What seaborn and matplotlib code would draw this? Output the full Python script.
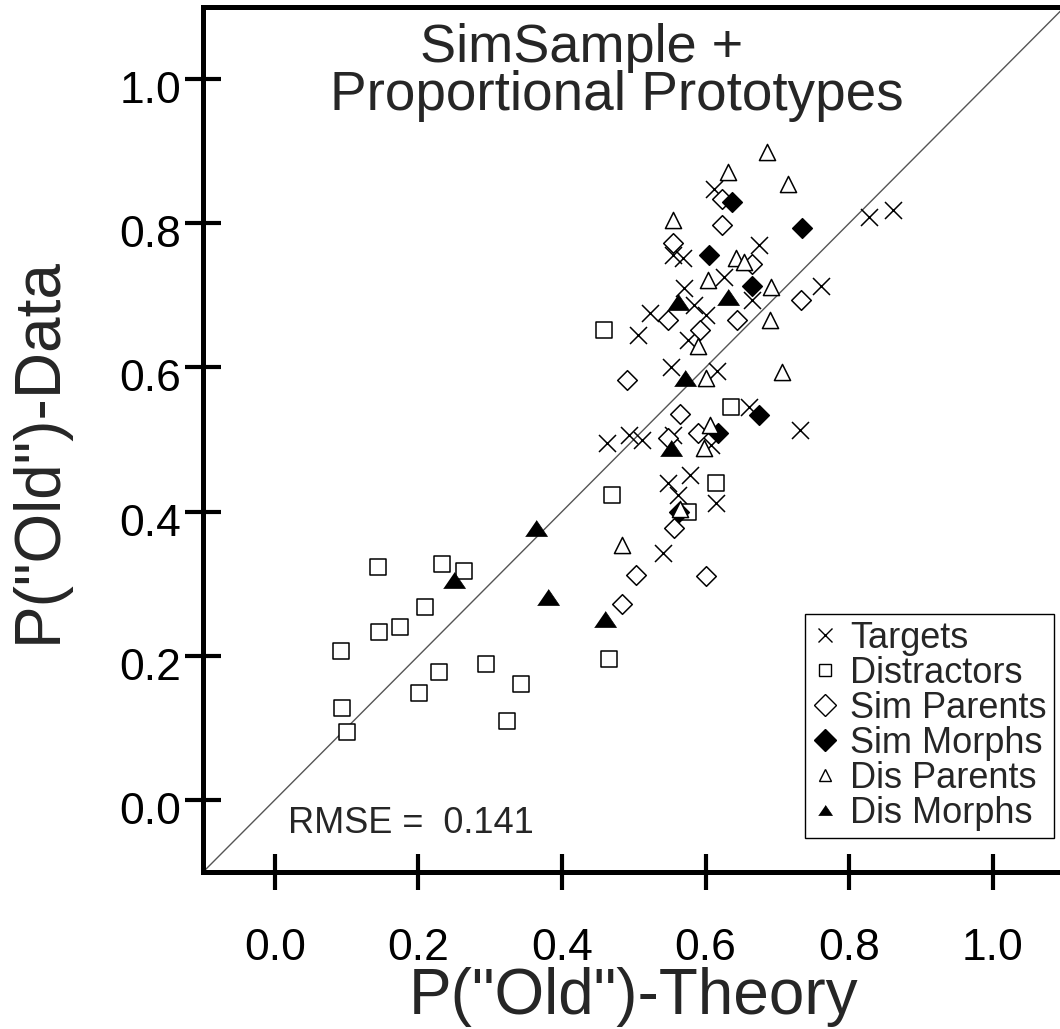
import numpy as np
import pandas as pd
import matplotlib
matplotlib.use("Agg")
import matplotlib.pyplot as plt
import matplotlib.transforms as mtransforms
from matplotlib.lines import Line2D
from matplotlib.ticker import FormatStrFormatter
import seaborn as sns

# ---------------- data ----------------
groups = ["Targets", "Distractors", "Sim Parents", "Sim Morphs", "Dis Parents", "Dis Morphs"]

targets_theory = [0.612, 0.554, 0.569, 0.674, 0.626, 0.570, 0.584, 0.665, 0.761, 0.523,
                  0.600, 0.506, 0.575, 0.552, 0.616, 0.661, 0.732, 0.554, 0.463, 0.493,
                  0.512, 0.607, 0.578, 0.547, 0.561, 0.614, 0.540, 0.828, 0.861]
targets_data = [0.847, 0.756, 0.752, 0.770, 0.726, 0.710, 0.687, 0.693, 0.713, 0.675,
                0.673, 0.645, 0.638, 0.601, 0.595, 0.545, 0.513, 0.506, 0.495, 0.506,
                0.500, 0.492, 0.451, 0.439, 0.423, 0.412, 0.342, 0.808, 0.818]

distractors_theory = [0.459, 0.636, 0.614, 0.470, 0.575, 0.466, 0.294, 0.343, 0.144, 0.233,
                      0.264, 0.209, 0.175, 0.145, 0.092, 0.229, 0.201, 0.093, 0.323, 0.100]
distractors_data = [0.652, 0.545, 0.439, 0.423, 0.400, 0.195, 0.188, 0.161, 0.323, 0.328,
                    0.318, 0.267, 0.240, 0.233, 0.206, 0.178, 0.149, 0.127, 0.110, 0.094]

simparents_theory = [0.623, 0.623, 0.555, 0.665, 0.733, 0.548, 0.644, 0.592, 0.490, 0.564,
                     0.589, 0.548, 0.556, 0.503, 0.484, 0.600]
simparents_data = [0.834, 0.798, 0.772, 0.744, 0.693, 0.666, 0.666, 0.652, 0.583, 0.535,
                   0.509, 0.502, 0.377, 0.312, 0.272, 0.311]

simmorphs_theory = [0.637, 0.734, 0.605, 0.664, 0.675, 0.617, 0.563]
simmorphs_data = [0.830, 0.793, 0.756, 0.713, 0.534, 0.509, 0.400]

disparents_theory = [0.685, 0.631, 0.715, 0.555, 0.642, 0.654, 0.603, 0.691, 0.690, 0.589,
                     0.601, 0.706, 0.606, 0.598, 0.565, 0.484]
disparents_data = [0.899, 0.871, 0.854, 0.804, 0.752, 0.746, 0.721, 0.712, 0.666, 0.629,
                   0.585, 0.593, 0.520, 0.488, 0.404, 0.354]

dismorphs_theory = [0.562, 0.631, 0.571, 0.552, 0.364, 0.380, 0.460, 0.249]
dismorphs_data = [0.691, 0.698, 0.585, 0.488, 0.377, 0.282, 0.251, 0.305]

tick_values = [0.0, 0.2, 0.4, 0.6, 0.8, 1.0]
rmse_text = "RMSE =  0.141"
title_lines = ["SimSample +", "Proportional Prototypes"]
x_label = 'P("Old")-Theory'
y_label = 'P("Old")-Data'

theory_lists = [targets_theory, distractors_theory, simparents_theory,
                simmorphs_theory, disparents_theory, dismorphs_theory]
data_lists = [targets_data, distractors_data, simparents_data,
              simmorphs_data, disparents_data, dismorphs_data]

df = pd.concat(
    [pd.DataFrame({"theory": t, "data": d, "group": g})
     for g, t, d in zip(groups, theory_lists, data_lists)],
    ignore_index=True,
)

# ---------------- styling ----------------
sns.set_style("white")
plt.rcParams["font.family"] = ["Liberation Sans", "DejaVu Sans"]

wide_tri = [(-1.0, -0.73), (1.0, -0.73), (0.0, 0.73)]
styles = {
    "Targets":     dict(marker="x", s=150, color="black", linewidth=1.1),
    "Distractors": dict(marker="s", s=130, color="white", edgecolor="black", linewidth=1.1),
    "Sim Parents": dict(marker="D", s=100, color="white", edgecolor="black", linewidth=1.1),
    "Sim Morphs":  dict(marker="D", s=100, color="black", edgecolor="black", linewidth=1.1),
    "Dis Parents": dict(marker="^", s=135, color="white", edgecolor="black", linewidth=1.1),
    "Dis Morphs":  dict(marker=wide_tri, s=250, color="black", edgecolor="black", linewidth=0.5),
}
legend_styles = {
    "Targets":     dict(marker="x", markersize=9.5, color="black", mew=1.0),
    "Distractors": dict(marker="s", markersize=9, mfc="white", mec="black", mew=1.0),
    "Sim Parents": dict(marker="D", markersize=11, mfc="white", mec="black", mew=1.0),
    "Sim Morphs":  dict(marker="D", markersize=11, mfc="black", mec="black", mew=1.0),
    "Dis Parents": dict(marker="^", markersize=9, mfc="white", mec="black", mew=1.0),
    "Dis Morphs":  dict(marker=wide_tri, markersize=10, mfc="black", mec="black", mew=0.5),
}

W, H = 1060, 1029
fig = plt.figure(figsize=(W / 100, H / 100), dpi=100)
ax = fig.add_axes([203 / W, (H - 872.1) / H, 861.6 / W, 865.2 / H])

# identity reference line
ax.axline((0, 0), slope=1, color="#555555", linewidth=1.0, zorder=1)

for z, g in enumerate(groups):
    sub = df[df["group"] == g]
    sns.scatterplot(data=sub, x="theory", y="data", ax=ax, legend=False,
                    zorder=3 + z, **styles[g])

ax.set_xlim(-0.1, 1.1)
ax.set_ylim(-0.1, 1.1)
ax.set_xticks(tick_values)
ax.set_yticks(tick_values)
ax.xaxis.set_major_formatter(FormatStrFormatter("%.1f"))
ax.yaxis.set_major_formatter(FormatStrFormatter("%.1f"))

for side in ["left", "bottom", "top", "right"]:
    ax.spines[side].set_linewidth(3.6)
    ax.spines[side].set_color("black")

ax.tick_params(axis="both", which="major", bottom=True, left=True, top=False, right=False,
               direction="inout", length=26, width=3, color="black",
               labelsize=32, labelcolor="black")
ax.tick_params(axis="x", pad=27)
ax.tick_params(axis="y", pad=2.5)

shift = mtransforms.ScaledTranslation(0, -8 / 100, fig.dpi_scale_trans)
for tk in ax.yaxis.get_major_ticks():
    tk.label1.set_transform(tk.label1.get_transform() + shift)

ax.set_xlabel(x_label, fontsize=46)
ax.set_ylabel(y_label, fontsize=46)
ax.xaxis.set_label_coords(0.5, -0.110)
ax.yaxis.set_label_coords(-0.156, 0.488)

ax.text((582 - 203) / 861.6, (872 - 62) / 865.2, title_lines[0], transform=ax.transAxes,
        ha="center", va="baseline", fontsize=39)
ax.text((617 - 203) / 861.6, (872 - 110) / 865.2, title_lines[1], transform=ax.transAxes,
        ha="center", va="baseline", fontsize=39.5)

ax.text((288 - 203) / 861.6, (872 - 833) / 865.2, rmse_text, transform=ax.transAxes,
        ha="left", va="baseline", fontsize=26)

handles = [Line2D([], [], linestyle="none", label=g, **legend_styles[g]) for g in groups]
leg = ax.legend(handles=handles, loc="lower right",
                bbox_to_anchor=((1054 - 203) / 861.6, (872 - 838) / 865.2),
                borderaxespad=0, fontsize=26, frameon=True, fancybox=False,
                handlelength=0.7, handletextpad=0.35, borderpad=0.2,
                labelspacing=0.0, framealpha=1)
leg.get_frame().set_edgecolor("black")
leg.get_frame().set_linewidth(1.0)
leg.set_zorder(20)

fig.savefig("out.png", dpi=100)
